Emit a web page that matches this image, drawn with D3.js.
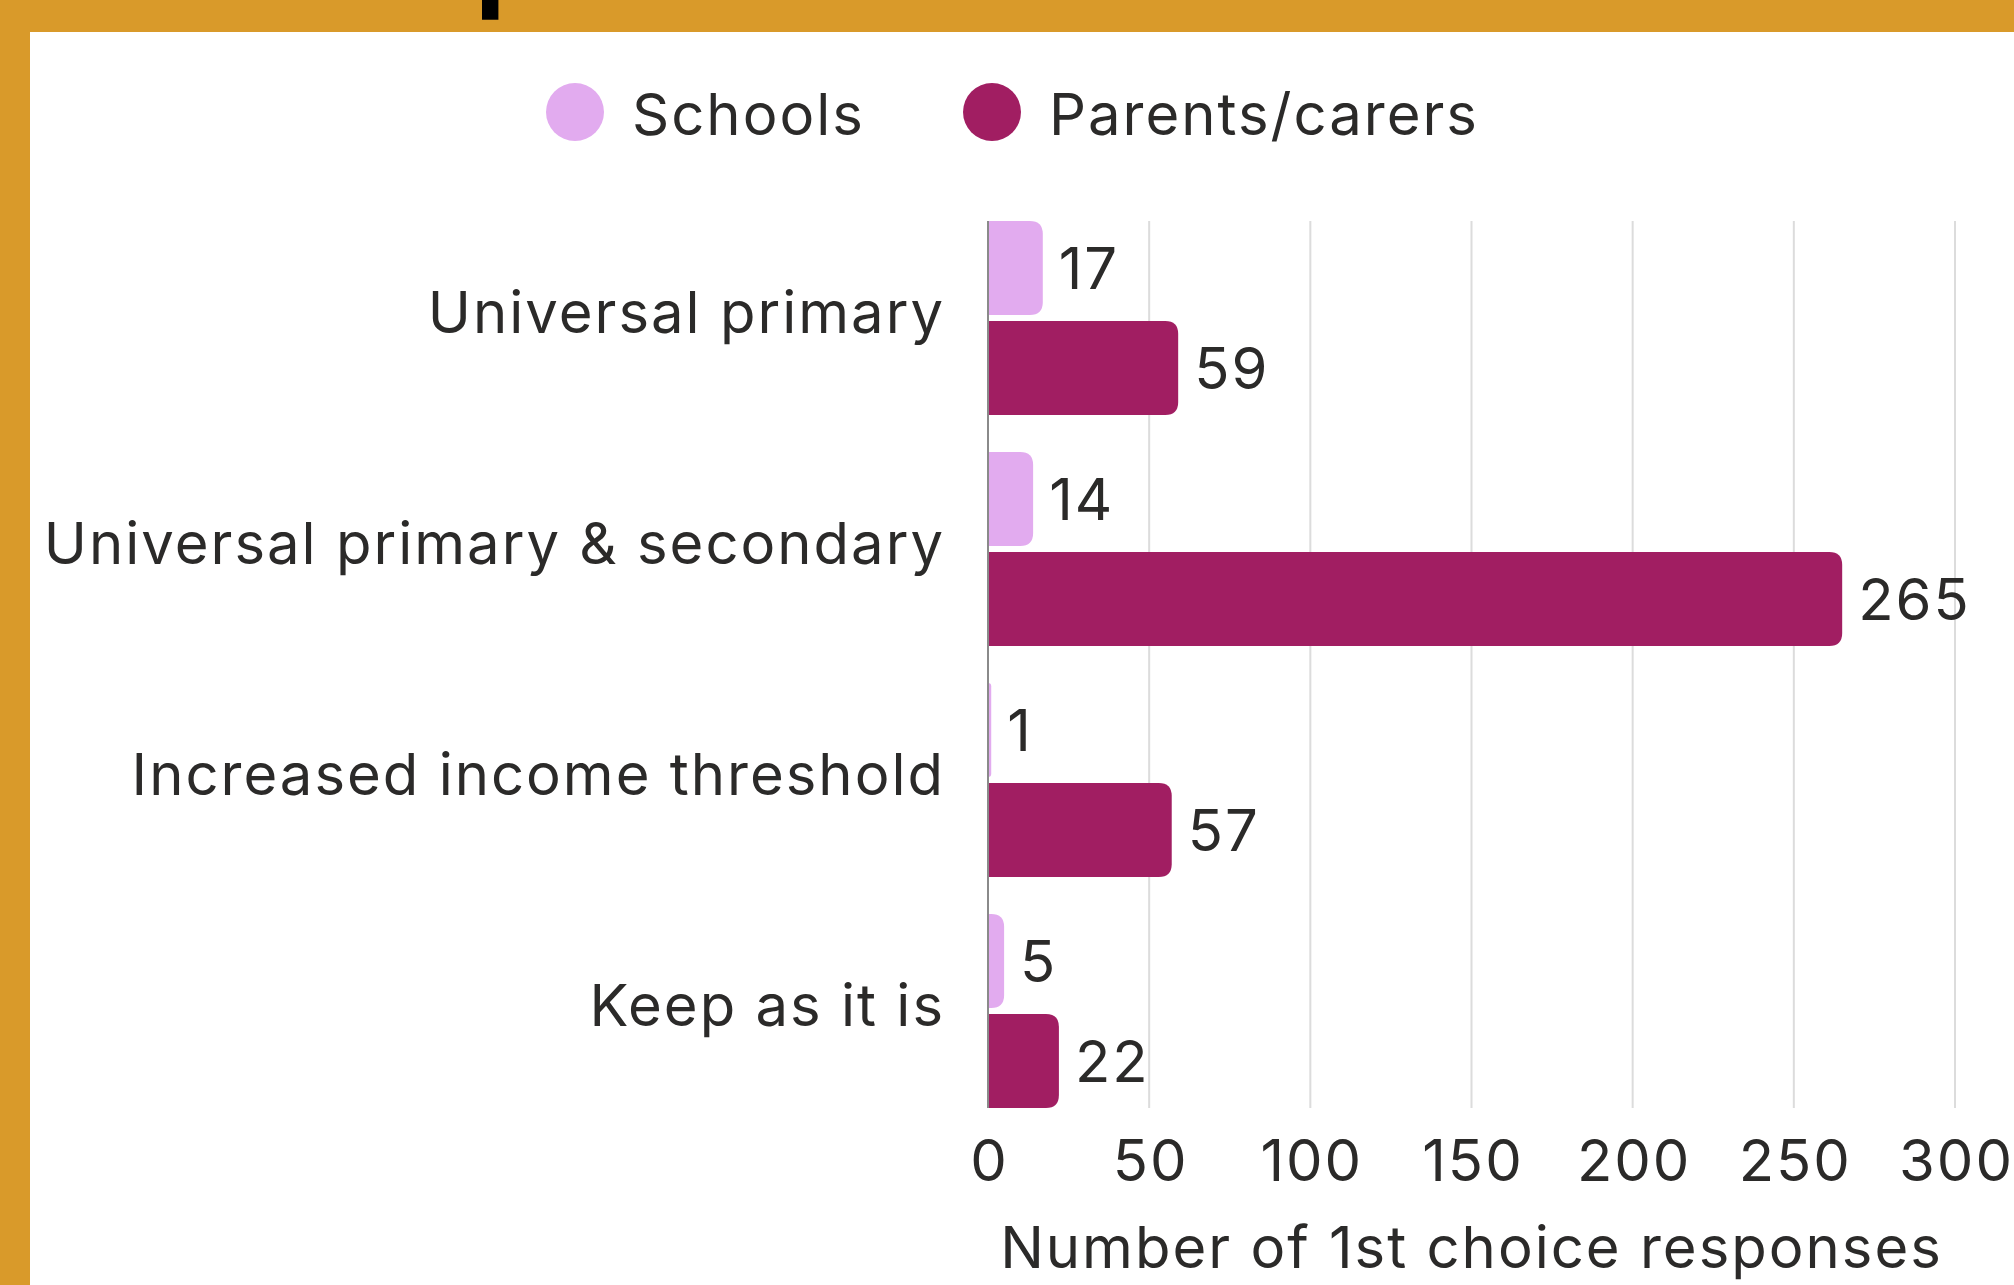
<!DOCTYPE html>
<html>
<head>
<meta charset="utf-8">
<script src="https://cdn.jsdelivr.net/npm/d3@7"></script>
<style>
  body { margin: 0; background: #fff; }
  text { font-family: Inter, "Open Sans", sans-serif; fill: #2b2a29; letter-spacing: 2px; }
</style>
</head>
<body>
<svg width="2014" height="1285"></svg>
<script>
const categories = ['Universal primary', 'Universal primary & secondary', 'Increased income threshold', 'Keep as it is'];
const seriesNames = ['Schools', 'Parents/carers'];
const schools = [17, 14, 1, 5];
const parents = [59, 265, 57, 22];
const xTicks = [0, 50, 100, 150, 200, 250, 300];
const colours = ['#e2abef', '#a11e62'];

const svg = d3.select('svg');
const width = +svg.attr('width');
const height = +svg.attr('height');

// frame
svg.append('rect').attr('width', width).attr('height', height).attr('fill', '#d99a2a');
svg.append('rect').attr('x', 30).attr('y', 32).attr('width', width - 30).attr('height', height - 32).attr('fill', '#fff');

// title, sits mostly above the visible page
const title = svg.append('text')
    .attr('y', -3)
    .attr('font-size', 112)
    .attr('font-weight', 700)
    .style('fill', '#000')
    .style('letter-spacing', '0px')
    .text('Preferred option overall');
const pPos = title.node().getStartPositionOfChar(title.text().indexOf('p')).x;
title.attr('x', 475 - pPos);

const data = categories.map((c, i) => ({category: c, values: [schools[i], parents[i]]}));

const xScale = d3.scaleLinear().domain([0, 300]).range([988, 1955]);
const yScale = d3.scaleBand().domain(categories).range([221, 1108]).paddingInner(0.16).paddingOuter(0);
const ySub = d3.scaleBand().domain(seriesNames).range([0, yScale.bandwidth()]).paddingInner(0.06);

// grid
svg.append('g').selectAll('line').data(xTicks.filter(d => d > 0)).enter().append('line')
    .attr('x1', d => xScale(d)).attr('x2', d => xScale(d))
    .attr('y1', 221).attr('y2', 1108)
    .attr('stroke', '#dcdcdc').attr('stroke-width', 2);

// x axis tick labels
const xAxisG = svg.append('g')
    .attr('transform', 'translate(0,1108)')
    .call(d3.axisBottom(xScale).tickValues(xTicks).tickSize(0).tickPadding(0));
xAxisG.select('.domain').remove();
xAxisG.selectAll('text')
    .attr('x', 1)
    .attr('y', 73).attr('dy', null)
    .attr('font-size', 58)
    .style('font-family', 'Inter, "Open Sans", sans-serif')
    .style('fill', '#2b2a29');

svg.append('text')
    .attr('x', (xScale(0) + xScale(300)) / 2)
    .attr('y', 1268)
    .attr('text-anchor', 'middle')
    .attr('font-size', 58)
    .text('Number of 1st choice responses');

// bars: square left edge, rounded right corners
const barPath = (x0, x1, y, h, r) => {
    r = Math.min(r, (x1 - x0), h / 2);
    return `M${x0},${y}H${x1 - r}Q${x1},${y} ${x1},${y + r}V${y + h - r}Q${x1},${y + h} ${x1 - r},${y + h}H${x0}Z`;
};

const groups = svg.append('g').selectAll('g').data(data).enter().append('g')
    .attr('transform', d => `translate(0,${yScale(d.category)})`);

groups.selectAll('path').data(d => d.values.map((v, i) => ({series: seriesNames[i], value: v, i}))).enter().append('path')
    .attr('d', d => barPath(xScale(0), xScale(d.value), ySub(d.series), ySub.bandwidth(), 13))
    .attr('fill', d => colours[d.i]);

groups.selectAll('text.val').data(d => d.values.map((v, i) => ({series: seriesNames[i], value: v}))).enter().append('text')
    .attr('class', 'val')
    .attr('x', d => xScale(d.value) + 16)
    .attr('y', d => ySub(d.series) + ySub.bandwidth() / 2 + 21)
    .attr('font-size', 58)
    .text(d => d.value);

// baseline at zero
svg.append('line')
    .attr('x1', xScale(0)).attr('x2', xScale(0))
    .attr('y1', 221).attr('y2', 1108)
    .attr('stroke', '#8a8a8a').attr('stroke-width', 2);

// category labels
svg.append('g').selectAll('text').data(categories).enter().append('text')
    .attr('x', 945)
    .attr('y', d => yScale(d) + yScale.bandwidth() / 2 + 15)
    .attr('text-anchor', 'end')
    .attr('font-size', 58)
    .text(d => d);

// legend
const legendX = [575, 992];
const legend = svg.append('g').selectAll('g').data(seriesNames).enter().append('g');
legend.append('circle')
    .attr('cx', (d, i) => legendX[i]).attr('cy', 112).attr('r', 29)
    .attr('fill', (d, i) => colours[i]);
legend.append('text')
    .attr('x', (d, i) => legendX[i] + 57)
    .attr('y', 135)
    .attr('font-size', 58)
    .text(d => d);
</script>
</body>
</html>
